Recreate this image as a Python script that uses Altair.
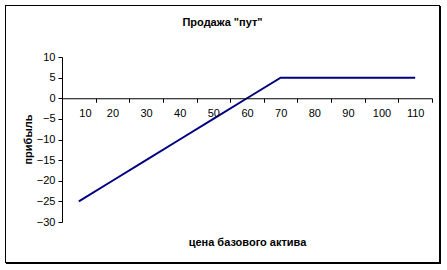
import altair as alt
import pandas as pd

# data
prices = [10, 20, 30, 40, 50, 60, 70, 80, 90, 100, 110]
profit = [-25, -20, -15, -10, -5, 0, 5, 5, 5, 5, 5]
y_ticks = [-30, -25, -20, -15, -10, -5, 0, 5, 10]
title_text = 'Продажа "пут"'
x_title = "цена базового актива"
y_title = "прибыль"

half = (prices[1] - prices[0]) / 2
x_domain = [prices[0] - half, prices[-1] + half]
x_tick_vals = [p - half for p in prices] + [prices[-1] + half]

df = pd.DataFrame({"price": prices, "profit": profit})

W, H = 370, 165
PAD_L, PAD_T = 62, 57
zero_y = H * 10 / 40

font = "Liberation Sans"

base = alt.Chart(df)

line = base.mark_line(color="#000080", strokeWidth=2, clip=False).encode(
    x=alt.X(
        "price:Q",
        scale=alt.Scale(domain=x_domain, nice=False, zero=False),
        axis=alt.Axis(
            values=x_tick_vals,
            labelExpr=f"datum.value < {x_domain[1]} ? datum.value + {half} : ''",
            labelOffset=W / len(prices) / 2,
            labelPadding=5,
            tickSize=4,
            grid=False,
            offset=zero_y - H,
            title=x_title,
            titleX=W / 2,
            titleY=185 - zero_y,
            titleBaseline="middle",
            zindex=1,
        ),
    ),
    y=alt.Y(
        "profit:Q",
        scale=alt.Scale(domain=[-30, 10], nice=False, zero=False),
        axis=alt.Axis(
            values=y_ticks,
            tickSize=4,
            labelPadding=3,
            grid=False,
            title=y_title,
            titleX=28 - PAD_L,
            titleY=139 - PAD_T,
            titleBaseline="middle",
            titleAlign="center",
            zindex=1,
        ),
    ),
)

border = alt.Chart(df).mark_rect(filled=False, stroke="black", strokeWidth=1, clip=False).encode(
    x=alt.value(5.5 - PAD_L), x2=alt.value(439.5 - PAD_L),
    y=alt.value(5.5 - PAD_T), y2=alt.value(262.5 - PAD_T),
)
shadow_v = alt.Chart(df).mark_rule(stroke="black", strokeWidth=1, clip=False).encode(
    x=alt.value(440.5 - PAD_L), y=alt.value(6 - PAD_T), y2=alt.value(264 - PAD_T),
)
shadow_h = alt.Chart(df).mark_rule(stroke="black", strokeWidth=1, clip=False).encode(
    y=alt.value(263.5 - PAD_T), x=alt.value(6 - PAD_L), x2=alt.value(441 - PAD_L),
)

chart = alt.layer(line, border, shadow_v, shadow_h).properties(
    width=W,
    height=H,
    autosize=alt.AutoSizeParams(type="none"),
    padding={"left": PAD_L, "top": PAD_T, "right": 447 - PAD_L - W, "bottom": 270 - PAD_T - H},
    title=alt.TitleParams(
        text=title_text, anchor="middle", dx=222.5 - PAD_L - W / 2, offset=0, dy=23,
        font=font, fontSize=11, fontWeight="bold", color="black",
    ),
).configure(
    font=font,
).configure_axis(
    labelFont=font, labelFontSize=11, labelColor="black",
    titleFont=font, titleFontSize=11, titleFontWeight="bold", titleColor="black",
    domainColor="black", tickColor="black", domainWidth=1, tickWidth=1,
).configure_view(stroke=None)

chart.save("out.html", embed_options={"renderer": "svg", "actions": False})
